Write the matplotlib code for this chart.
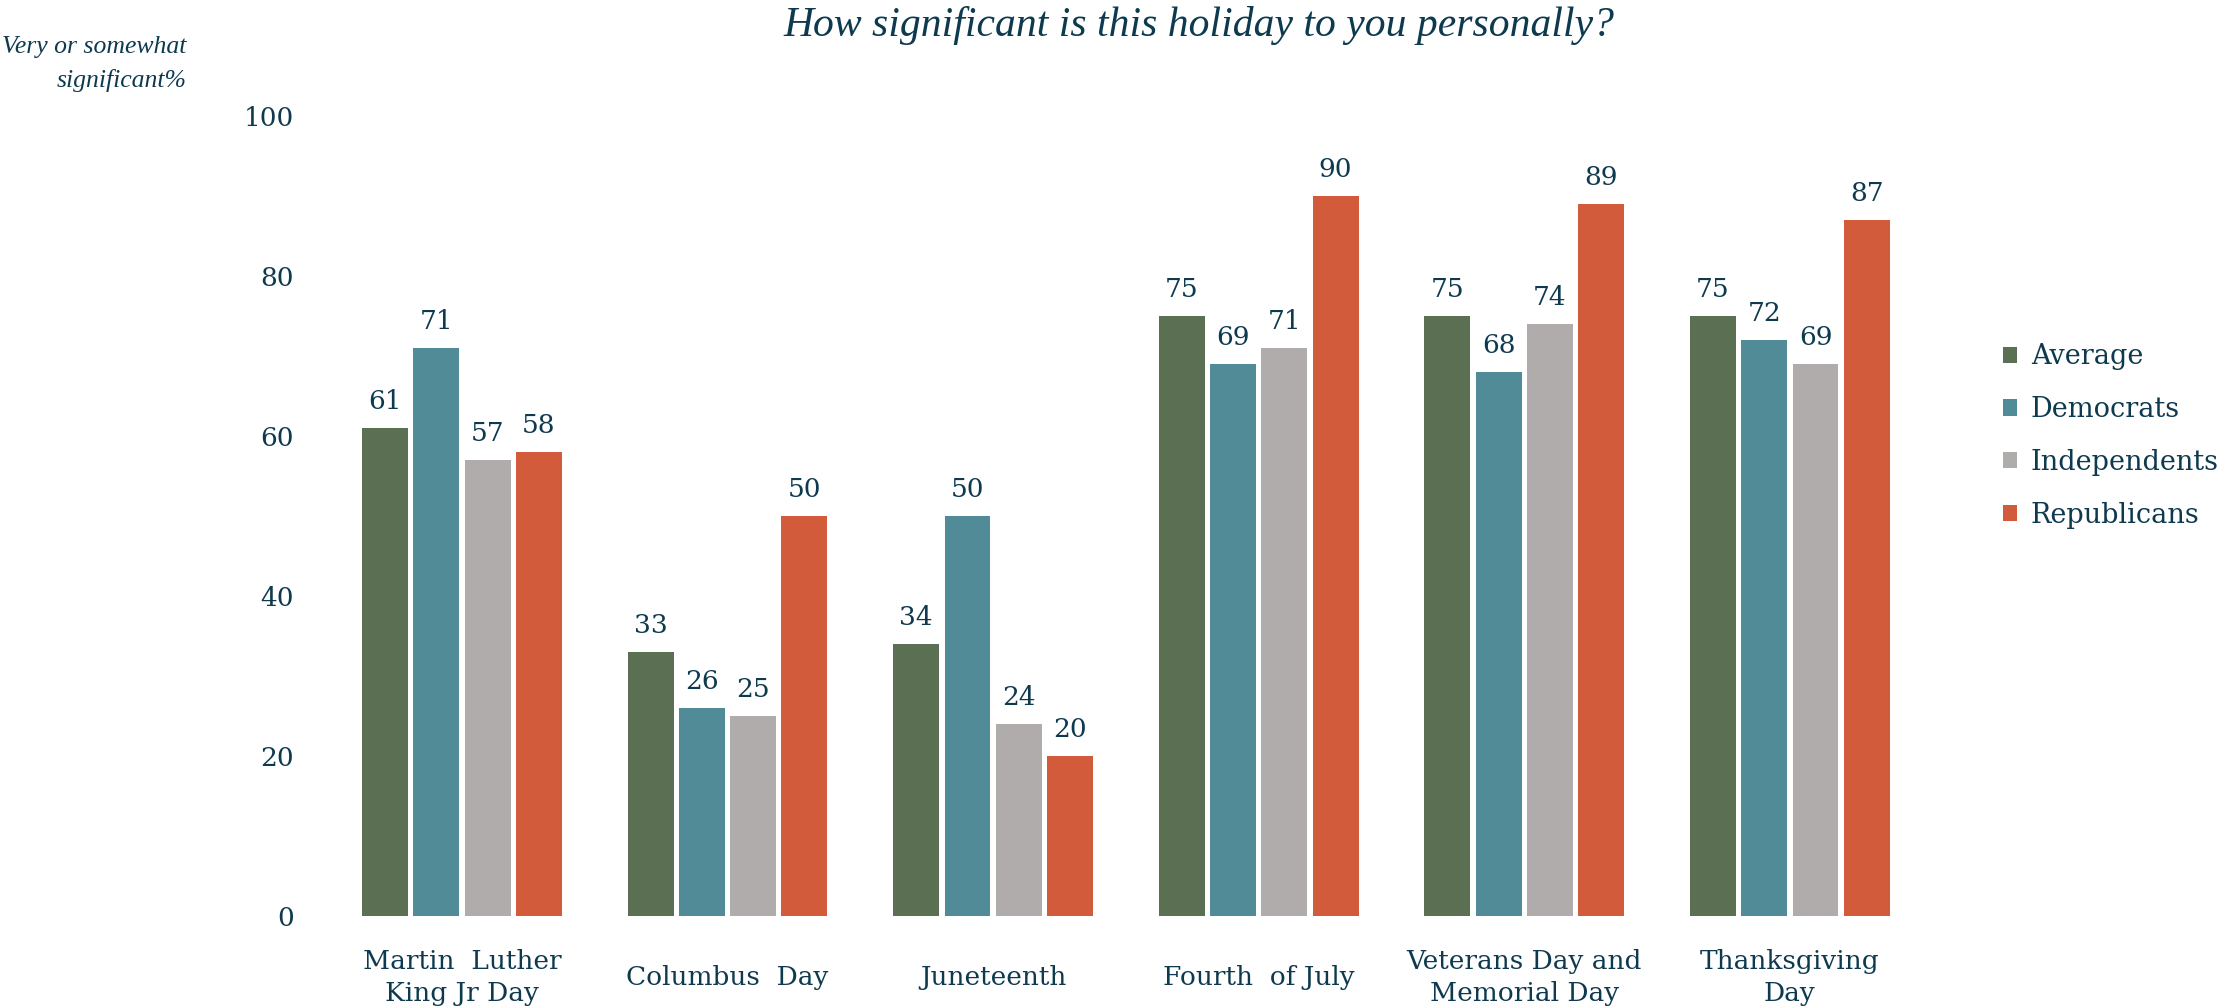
import numpy as np
import matplotlib
matplotlib.use("Agg")
import matplotlib.pyplot as plt

categories = ["Martin  Luther\nKing Jr Day", "Columbus  Day", "Juneteenth",
              "Fourth  of July", "Veterans Day and\nMemorial Day", "Thanksgiving\nDay"]
series_names = ["Average", "Democrats", "Independents", "Republicans"]
average = [61, 33, 34, 75, 75, 75]
democrats = [71, 26, 50, 69, 68, 72]
independents = [57, 25, 24, 71, 74, 69]
republicans = [58, 50, 20, 90, 89, 87]
y_ticks = [0, 20, 40, 60, 80, 100]

colors = ["#5b6f52", "#518b98", "#b0acab", "#d15b3b"]
text_color = "#0e3a4f"
serif = "DejaVu Serif"

fig = plt.figure(figsize=(22.2, 10.08), dpi=100)
ax = fig.add_axes([0.1441, 0.0913, 0.7252, 0.7937])

x = np.arange(len(categories))
pitch = 0.193
width = 0.173
values = [average, democrats, independents, republicans]
for i, (name, vals) in enumerate(zip(series_names, values)):
    pos = x + (i - 1.5) * pitch
    bars = ax.bar(pos, vals, width=width, color=colors[i], label=name)
    for b, v in zip(bars, vals):
        ax.text(b.get_x() + b.get_width() / 2, v + 1.8, str(v), ha="center", va="bottom",
                fontsize=19, family=serif, color=text_color)

ax.set_xlim(-0.535, 5.527)
ax.set_ylim(0, 100)
ax.set_yticks(y_ticks)
ax.set_yticklabels([str(t) for t in y_ticks], family=serif, fontsize=19, color=text_color)
ax.set_xticks(x)
ax.set_xticklabels(categories, family=serif, fontsize=19, color=text_color, linespacing=1.35,
                   va="center")
ax.tick_params(axis="both", length=0)
ax.tick_params(axis="y", pad=19)
ax.tick_params(axis="x", pad=44)
for s in ax.spines.values():
    s.set_visible(False)

leg = ax.legend(loc="center left", bbox_to_anchor=(1.03, 0.60), frameon=False,
                prop={"family": serif, "size": 19.5}, handlelength=0.55, handleheight=0.55,
                handletextpad=0.5, labelspacing=0.95)
for t in leg.get_texts():
    t.set_color(text_color)

fig.text(0.54, 0.975, "How significant is this holiday to you personally?", ha="center", va="center",
         family="Liberation Serif", style="italic", fontsize=30, color=text_color)
fig.text(0.084, 0.964, "Very or somewhat\nsignificant%", ha="right", va="top", family="Liberation Serif",
         style="italic", fontsize=18.5, color=text_color, linespacing=1.6)

fig.savefig("out.png", dpi=100)
